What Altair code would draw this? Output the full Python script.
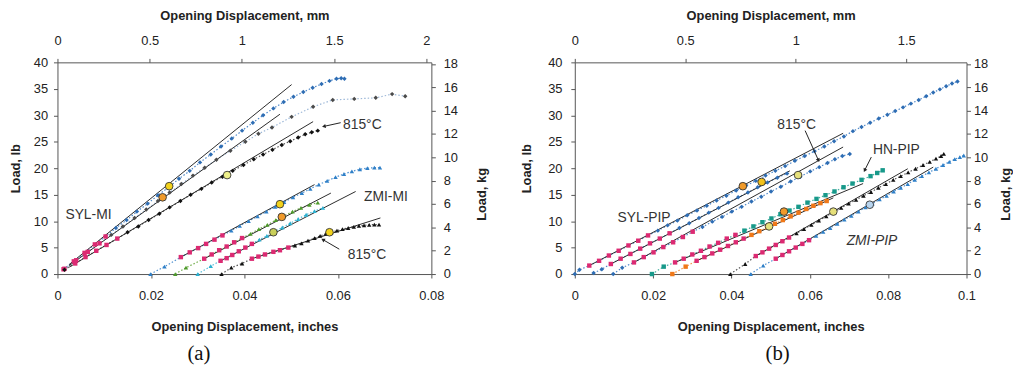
import math
import altair as alt
import pandas as pd

FONT = "Liberation Sans"
KG_MAX = 40 / 2.20462

# ---------------- Panel (a) : MI specimens ----------------
A1_X = [0.0013, 0.0035, 0.0058, 0.0080, 0.0103, 0.0125, 0.0148, 0.0170, 0.0193, 0.0215, 0.0238, 0.0260, 0.0283, 0.0305, 0.0328,
        0.0350, 0.0373, 0.0395, 0.0418, 0.0440, 0.0462, 0.0484, 0.0505, 0.0526, 0.0546, 0.0565, 0.0582, 0.0597, 0.0607, 0.0614]
A1_Y = [0.9, 2.4, 4.0, 5.6, 7.1, 8.7, 10.2, 11.8, 13.3, 14.9, 16.4, 18.0, 19.5, 21.1, 22.6,
        24.1, 25.6, 27.1, 28.6, 30.0, 31.3, 32.5, 33.5, 34.4, 35.2, 35.9, 36.5, 36.9, 37.0, 36.9]
A2_X = [0.0015, 0.0040, 0.0065, 0.0090, 0.0115, 0.0140, 0.0165, 0.0190, 0.0215, 0.0240, 0.0265, 0.0290, 0.0315,
        0.0340, 0.0370, 0.0402, 0.0430, 0.0459, 0.0501, 0.0547, 0.0589, 0.0635, 0.0681, 0.0716, 0.0744]
A2_Y = [1.0, 2.6, 4.2, 5.8, 7.4, 9.0, 10.6, 12.2, 13.8, 15.4, 17.0, 18.6, 20.1,
        21.6, 23.3, 25.0, 26.5, 27.7, 29.7, 31.6, 32.9, 33.1, 33.3, 34.0, 33.6]
A3_X = [0.0015, 0.0038, 0.0060, 0.0083, 0.0105, 0.0128, 0.0150, 0.0173, 0.0195, 0.0218, 0.0240, 0.0263, 0.0285, 0.0308,
        0.0330, 0.0353, 0.0375, 0.0398, 0.0420, 0.0440, 0.0460, 0.0480, 0.0498, 0.0515, 0.0530, 0.0544, 0.0557]
A3_Y = [0.8, 2.0, 3.2, 4.4, 5.5, 6.7, 7.9, 9.0, 10.2, 11.4, 12.6, 13.8, 15.0, 16.1,
        17.3, 18.4, 19.5, 20.6, 21.7, 22.6, 23.5, 24.4, 25.1, 25.8, 26.4, 26.8, 27.1]
A4_X = [0.0199, 0.0229, 0.0264, 0.0283, 0.0301, 0.0318, 0.0336, 0.0353, 0.0372, 0.0390, 0.0409, 0.0428, 0.0447, 0.0466,
        0.0485, 0.0504, 0.0523, 0.0541, 0.0559, 0.0577, 0.0595, 0.0613, 0.0630, 0.0647, 0.0663, 0.0678, 0.0690]
A4_Y = [0.0, 1.4, 3.2, 4.1, 4.9, 5.7, 6.5, 7.3, 8.2, 9.1, 10.0, 10.9, 11.8, 12.7,
        13.6, 14.5, 15.3, 16.1, 16.9, 17.6, 18.3, 18.9, 19.4, 19.8, 20.0, 20.1, 20.1]
A5_X = [0.0252, 0.0275, 0.0314, 0.0330, 0.0346, 0.0362, 0.0378, 0.0395, 0.0413, 0.0431, 0.0449, 0.0467, 0.0485,
        0.0503, 0.0521, 0.0539, 0.0557]
A5_Y = [0.0, 1.2, 2.9, 3.7, 4.5, 5.2, 6.0, 6.8, 7.6, 8.5, 9.3, 10.2, 11.0, 11.8, 12.5, 13.1, 13.5]
A6_X = [0.0300, 0.0328, 0.0349, 0.0362, 0.0374, 0.0388, 0.0402, 0.0416, 0.0432, 0.0448, 0.0464, 0.0481, 0.0498,
        0.0515, 0.0532, 0.0550, 0.0568]
A6_Y = [0.0, 1.5, 2.5, 3.0, 3.6, 4.3, 5.0, 5.7, 6.5, 7.2, 8.0, 8.8, 9.6, 10.4, 11.2, 11.9, 12.5]
A7_X = [0.0351, 0.0372, 0.0395, 0.0416, 0.0430, 0.0444, 0.0462, 0.0476, 0.0494, 0.0508, 0.0522, 0.0536, 0.0550,
        0.0562, 0.0574, 0.0586, 0.0598, 0.0610, 0.0622, 0.0634, 0.0645, 0.0656, 0.0667, 0.0678, 0.0688]
A7_Y = [0.0, 1.2, 2.0, 2.9, 3.3, 3.7, 4.2, 4.5, 5.0, 5.4, 5.8, 6.3, 6.8, 7.2, 7.6, 7.9, 8.2, 8.5, 8.7, 8.9,
        9.1, 9.2, 9.3, 9.35, 9.35]

A_FIT_X1 = [0.0025, 0.0025, 0.0025, 0.0264, 0.0314, 0.0349, 0.0416]
A_FIT_Y1 = [1.8, 1.6, 1.3, 3.2, 2.9, 2.5, 2.9]
A_FIT_X2 = [0.0501, 0.0476, 0.0547, 0.0550, 0.0585, 0.0638, 0.0691]
A_FIT_Y2 = [35.8, 30.2, 28.8, 16.9, 15.3, 15.6, 10.6]

A_CIRC_X = [0.0239, 0.0225, 0.0363, 0.0476, 0.0480, 0.0462, 0.0582]
A_CIRC_Y = [16.6, 14.5, 18.7, 13.2, 10.8, 7.9, 7.9]
A_CIRC_FILL = ["#f2d21c", "#f09a2a", "#eef08a", "#f2d21c", "#f09a2a", "#c9cf5a", "#f2d21c"]

A_LABEL_TEXT = ["SYL-MI", "815°C", "ZMI-MI", "815°C"]
A_LABEL_X = [0.0017, 0.0611, 0.0656, 0.0621]
A_LABEL_Y = [11.2, 28.1, 14.6, 3.6]
A_ARROW_X1 = [0.0606, 0.0603]
A_ARROW_Y1 = [28.6, 4.7]
A_ARROW_X2 = [0.0570, 0.0568]
A_ARROW_Y2 = [27.9, 6.5]

# ---------------- Panel (b) : PIP specimens ----------------
B1_X = [0.0000, 0.0012, 0.0037, 0.0062, 0.0087, 0.0112, 0.0137, 0.0162, 0.0187, 0.0212, 0.0237, 0.0262, 0.0287, 0.0312,
        0.0337, 0.0362, 0.0387, 0.0412, 0.0437, 0.0462, 0.0487, 0.0512, 0.0537, 0.0562, 0.0587, 0.0612, 0.0637, 0.0662,
        0.0687, 0.0710, 0.0732, 0.0754, 0.0776, 0.0798, 0.0818, 0.0838, 0.0858, 0.0878, 0.0897, 0.0915, 0.0932, 0.0948,
        0.0963, 0.0977]
B1_Y = [0.0, 0.8, 1.6, 2.5, 3.5, 4.4, 5.4, 6.3, 7.3, 8.2, 9.2, 10.1, 11.1, 12.0,
        12.9, 13.9, 14.8, 15.8, 16.7, 17.6, 18.6, 19.5, 20.4, 21.4, 22.3, 23.2, 24.1, 25.1,
        26.0, 27.0, 27.8, 28.6, 29.4, 30.1, 30.8, 31.5, 32.2, 32.9, 33.6, 34.3, 34.9, 35.5,
        36.0, 36.4]
B2_X = [0.0048, 0.0069, 0.0092, 0.0117, 0.0142, 0.0167, 0.0192, 0.0217, 0.0242, 0.0267, 0.0292, 0.0317, 0.0342,
        0.0367, 0.0392, 0.0417, 0.0442, 0.0467, 0.0492, 0.0517, 0.0542]
B2_Y = [0.2, 0.9, 1.9, 2.9, 3.8, 4.8, 5.8, 6.7, 7.7, 8.7, 9.6, 10.6, 11.6, 12.5, 13.5, 14.5, 15.4, 16.4, 17.3, 18.2, 19.0]
B3_X = [0.0098, 0.0121, 0.0151, 0.0176, 0.0201, 0.0226, 0.0251, 0.0276, 0.0301, 0.0326, 0.0351, 0.0376, 0.0401,
        0.0426, 0.0451, 0.0476, 0.0501, 0.0526, 0.0551, 0.0576, 0.0601, 0.0624, 0.0645, 0.0664, 0.0683, 0.0702]
B3_Y = [0.0, 1.2, 2.2, 3.2, 4.1, 5.1, 6.0, 7.0, 8.0, 8.9, 9.9, 10.8, 11.8, 12.7, 13.7, 14.6, 15.6, 16.5, 17.5,
        18.4, 19.4, 20.2, 21.0, 21.7, 22.3, 22.7]
B4_X = [0.0197, 0.0227, 0.0256, 0.0278, 0.0300, 0.0322, 0.0344, 0.0366, 0.0388, 0.0410, 0.0433, 0.0456, 0.0479,
        0.0502, 0.0525, 0.0548, 0.0571, 0.0594, 0.0617, 0.0640, 0.0663, 0.0686, 0.0709, 0.0732, 0.0755, 0.0772, 0.0786]
B4_Y = [0.0, 1.4, 2.2, 2.9, 3.7, 4.4, 5.2, 5.9, 6.7, 7.4, 8.2, 9.0, 9.8, 10.5, 11.3, 12.0, 12.7, 13.5, 14.2, 14.9,
        15.6, 16.4, 17.1, 17.8, 18.5, 19.1, 19.6]
B5_X = [0.0249, 0.0283, 0.0311, 0.0331, 0.0351, 0.0371, 0.0391, 0.0411, 0.0431, 0.0451, 0.0471, 0.0491, 0.0511,
        0.0531, 0.0551, 0.0571, 0.0591, 0.0609, 0.0627, 0.0643]
B5_Y = [0.0, 1.4, 2.5, 3.2, 3.9, 4.6, 5.3, 6.0, 6.7, 7.4, 8.1, 8.8, 9.5, 10.2, 10.9, 11.6, 12.3, 12.9, 13.4, 13.8]
B6_X = [0.0397, 0.0435, 0.0462, 0.0479, 0.0496, 0.0513, 0.0530, 0.0547, 0.0566, 0.0585, 0.0604, 0.0623, 0.0642,
        0.0661, 0.0680, 0.0699, 0.0718, 0.0737, 0.0756, 0.0775, 0.0794, 0.0813, 0.0832, 0.0851, 0.0870, 0.0889,
        0.0906, 0.0922, 0.0935, 0.0942]
B6_Y = [0.0, 1.9, 3.4, 4.1, 4.8, 5.5, 6.2, 6.9, 7.7, 8.5, 9.3, 10.1, 10.9, 11.7, 12.5, 13.3, 14.0, 14.8, 15.5,
        16.3, 17.0, 17.8, 18.5, 19.2, 19.9, 20.6, 21.2, 21.8, 22.3, 22.7]
B7_X = [0.0449, 0.0481, 0.0513, 0.0530, 0.0547, 0.0564, 0.0581, 0.0598, 0.0616, 0.0634, 0.0652, 0.0670, 0.0688,
        0.0706, 0.0724, 0.0742, 0.0760, 0.0778, 0.0796, 0.0814, 0.0832, 0.0850, 0.0868, 0.0886, 0.0904, 0.0922,
        0.0940, 0.0956, 0.0970, 0.0983, 0.0993]
B7_Y = [0.0, 1.6, 2.9, 3.6, 4.3, 5.0, 5.7, 6.4, 7.2, 8.0, 8.7, 9.5, 10.3, 11.0, 11.8, 12.6, 13.3, 14.1, 14.8,
        15.6, 16.3, 17.0, 17.8, 18.5, 19.2, 19.9, 20.6, 21.2, 21.7, 22.1, 22.4]

B_FIT_X1 = [0.0037, 0.0092, 0.0151, 0.0256, 0.0311, 0.0462, 0.0513]
B_FIT_Y1 = [1.6, 1.9, 2.2, 2.2, 2.5, 3.4, 2.9]
B_FIT_X2 = [0.0685, 0.0549, 0.0685, 0.0736, 0.0660, 0.0850, 0.0915]
B_FIT_Y2 = [26.6, 19.5, 24.0, 17.1, 14.4, 19.9, 20.2]

B_CIRC_X = [0.0429, 0.0477, 0.0570, 0.0534, 0.0496, 0.0660, 0.0753]
B_CIRC_Y = [16.6, 17.4, 18.7, 11.8, 9.0, 11.8, 13.1]
B_CIRC_FILL = ["#f09a2a", "#f2c21c", "#e6e07a", "#f09a2a", "#e6e07a", "#e6e07a", "#b8d4ee"]

B_LABEL_TEXT = ["SYL-PIP", "815°C", "HN-PIP"]
B_LABEL_X = [0.0109, 0.0517, 0.0761]
B_LABEL_Y = [10.6, 28.2, 23.4]
B_ITALIC_TEXT = ["ZMI-PIP"]
B_ITALIC_X = [0.0694]
B_ITALIC_Y = [6.3]
B_ARROW_X1 = [0.0588, 0.0757]
B_ARROW_Y1 = [27.1, 22.1]
B_ARROW_X2 = [0.0622, 0.0740]
B_ARROW_Y2 = [21.5, 19.6]

# ---------------- styles ----------------
KIND_SHAPE = {"pink": "square", "blue_d": "diamond", "gray_d": "diamond", "black_d": "diamond",
              "blue_t": "triangle-up", "green_t": "triangle-up", "cyan_t": "triangle-up", "black_t": "triangle-up",
              "teal_s": "square", "orange_s": "square"}
KIND_COLOR = {"pink": "#dc2a72", "blue_d": "#2e6db4", "gray_d": "#4a4a4a", "black_d": "#111111",
              "blue_t": "#2f80c8", "green_t": "#4d9a2a", "cyan_t": "#2bb0d0", "black_t": "#111111",
              "teal_s": "#17998a", "orange_s": "#f07818"}


def curve(name, xs, ys, kind, p0, p1, lc):
    n = len(xs)
    return pd.DataFrame({
        "series": [name] * n, "i": list(range(n)), "x": xs, "y": ys,
        "kind": ["pink" if p0 <= i <= p1 else kind for i in range(n)],
        "lc": [lc] * n,
    })


a_curves = pd.concat([
    curve("a1", A1_X, A1_Y, "blue_d", 0, 4, "#4f88c8"),
    curve("a2", A2_X, A2_Y, "gray_d", 0, 3, "#9db8d8"),
    curve("a3", A3_X, A3_Y, "black_d", 1, 5, "#555555"),
    curve("a4", A4_X, A4_Y, "blue_t", 2, 7, "#4f90d0"),
    curve("a5", A5_X, A5_Y, "green_t", 2, 7, "#70ac48"),
    curve("a6", A6_X, A6_Y, "cyan_t", 2, 7, "#50bcd8"),
    curve("a7", A7_X, A7_Y, "black_t", 3, 8, "#555555"),
])
b_curves = pd.concat([
    curve("b1", B1_X, B1_Y, "blue_d", 2, 8, "#4f88c8"),
    curve("b2", B2_X, B2_Y, "blue_d", 2, 8, "#4f88c8"),
    curve("b3", B3_X, B3_Y, "blue_d", 2, 8, "#4f88c8"),
    curve("b4", B4_X, B4_Y, "teal_s", 2, 9, "#40ac9c"),
    curve("b5", B5_X, B5_Y, "orange_s", 2, 8, "#f09040"),
    curve("b6", B6_X, B6_Y, "black_t", 2, 7, "#555555"),
    curve("b7", B7_X, B7_Y, "blue_t", 2, 7, "#4f90d0"),
])


def panel(curves, fx1, fy1, fx2, fy2, cx, cy, cfill, lt, lx, ly, itext, ix, iy,
          ax1, ay1, ax2, ay2, xmax, xticks, mm_max, mm_ticks, w, h, axp, tag, tag_dx):
    xsc = alt.Scale(domain=[0, xmax], nice=False, zero=False)
    ysc = alt.Scale(domain=[0, 40], nice=False, zero=False)
    xax = alt.Axis(values=xticks, format="~g", title="Opening Displacement, inches", orient="bottom",
                   labelPadding=axp["bl"], titlePadding=axp["bt"], labelFlush=False)
    yax = alt.Axis(values=list(range(0, 41, 5)), title="Load, lb", orient="left",
                   labelPadding=axp["ll"], titlePadding=axp["lt"], labelFlush=False)

    def X(f):
        return alt.X(f"{f}:Q", scale=xsc, axis=xax)

    def Y(f):
        return alt.Y(f"{f}:Q", scale=ysc, axis=yax)

    fits = pd.DataFrame({"x1": fx1, "y1": fy1, "x2": fx2, "y2": fy2})
    circ = pd.DataFrame({"x": cx, "y": cy, "c": cfill})
    labs = pd.DataFrame({"x": lx, "y": ly, "t": lt})
    ilabs = pd.DataFrame({"x": ix, "y": iy, "t": itext})
    kx = w / xmax
    ky = h / 40.0
    angs = []
    for a, b, c, d in zip(ax1, ay1, ax2, ay2):
        dx = (c - a) * kx
        dy = -(d - b) * ky
        angs.append(math.degrees(math.atan2(dx, -dy)) % 360)
    arr = pd.DataFrame({"x1": ax1, "y1": ay1, "x2": ax2, "y2": ay2, "ang": angs})

    dotted = alt.Chart(curves).mark_line(strokeDash=[1.5, 2], strokeWidth=1.2).encode(
        X("x"), Y("y"), color=alt.Color("lc:N", scale=None), detail="series:N", order="i:Q")
    fit = alt.Chart(fits).mark_rule(color="#2a2a2a", strokeWidth=1).encode(
        X("x1"), Y("y1"), x2="x2:Q", y2="y2:Q")
    pts = alt.Chart(curves).mark_point(filled=True, opacity=1, size=20).encode(
        X("x"), Y("y"),
        shape=alt.Shape("kind:N", scale=alt.Scale(domain=list(KIND_SHAPE), range=list(KIND_SHAPE.values())), legend=None),
        color=alt.Color("kind:N", scale=alt.Scale(domain=list(KIND_COLOR), range=list(KIND_COLOR.values())), legend=None))
    circles = alt.Chart(circ).mark_point(shape="circle", filled=True, opacity=1, size=60, stroke="#333333",
                                         strokeWidth=0.9).encode(X("x"), Y("y"), fill=alt.Fill("c:N", scale=None))
    txt = alt.Chart(labs).mark_text(align="left", baseline="middle", font=FONT, fontSize=14, color="#333333").encode(
        X("x"), Y("y"), text="t:N")
    layers = [dotted, fit, pts, circles, txt]
    if len(ilabs):
        layers.append(alt.Chart(ilabs).mark_text(align="left", baseline="middle", font=FONT, fontSize=14,
                                                 fontStyle="italic", color="#333333").encode(X("x"), Y("y"), text="t:N"))
    shafts = alt.Chart(arr).mark_rule(color="#222222", strokeWidth=1).encode(X("x1"), Y("y1"), x2="x2:Q", y2="y2:Q")
    heads = alt.Chart(arr).mark_point(shape="triangle-up", filled=True, opacity=1, size=18, color="#222222").encode(
        X("x2"), Y("y2"), angle=alt.Angle("ang:Q", scale=None))
    layers += [shafts, heads]
    main = alt.layer(*layers)

    axdf = pd.DataFrame({"mm": [0, mm_max], "kg": [0, KG_MAX]})
    axl = alt.Chart(axdf).mark_point(opacity=0).encode(
        x=alt.X("mm:Q", scale=alt.Scale(domain=[0, mm_max], nice=False, zero=False),
                axis=alt.Axis(orient="top", values=mm_ticks, format="~g", title="Opening Displacement, mm",
                              labelPadding=axp["tl"], titlePadding=axp["tt"], labelFlush=False)),
        y=alt.Y("kg:Q", scale=alt.Scale(domain=[0, KG_MAX], nice=False, zero=False),
                axis=alt.Axis(orient="right", values=list(range(0, 19, 2)), title="Load, kg", titleAngle=270,
                              titleBaseline="top", titleAlign="center", titleY=h / 2 + 26,
                              labelPadding=axp["rl"], titlePadding=axp["rt"], labelFlush=False)))
    return alt.layer(main, axl).resolve_scale(x="independent", y="independent").properties(
        width=w, height=h,
        title=alt.TitleParams(tag, orient="bottom", anchor="middle", frame="group", font="Liberation Serif",
                              fontSize=21, fontWeight="normal", color="#111111", dx=tag_dx, offset=10))


pa = panel(a_curves, A_FIT_X1, A_FIT_Y1, A_FIT_X2, A_FIT_Y2, A_CIRC_X, A_CIRC_Y, A_CIRC_FILL,
           A_LABEL_TEXT, A_LABEL_X, A_LABEL_Y, [], [], [],
           A_ARROW_X1, A_ARROW_Y1, A_ARROW_X2, A_ARROW_Y2,
           0.08, [0, 0.02, 0.04, 0.06, 0.08], 2.027, [0, 0.5, 1, 1.5, 2], 378, 214,
           {"bl": 12, "bt": 18, "ll": 6, "lt": 11, "tl": 11, "tt": 12, "rl": 8, "rt": 18}, "(a)", -46)
pb = panel(b_curves, B_FIT_X1, B_FIT_Y1, B_FIT_X2, B_FIT_Y2, B_CIRC_X, B_CIRC_Y, B_CIRC_FILL,
           B_LABEL_TEXT, B_LABEL_X, B_LABEL_Y, B_ITALIC_TEXT, B_ITALIC_X, B_ITALIC_Y,
           B_ARROW_X1, B_ARROW_Y1, B_ARROW_X2, B_ARROW_Y2,
           0.1, [0, 0.02, 0.04, 0.06, 0.08, 0.1], 1.773, [0, 0.5, 1, 1.5], 396, 214,
           {"bl": 12, "bt": 18, "ll": 9, "lt": 14, "tl": 11, "tt": 12, "rl": 3, "rt": 12}, "(b)", 7)

chart = alt.hconcat(pa, pb, spacing=32).properties(
    padding={"left": 1, "top": 0, "right": 0, "bottom": 0}
).configure_axis(
    labelFont=FONT, titleFont=FONT, labelFontSize=13, titleFontSize=13, titleFontWeight="bold",
    labelColor="#222222", titleColor="#222222", domainColor="#555555", tickColor="#555555",
    tickSize=4, grid=False, domainWidth=1, tickWidth=1
).configure_view(stroke=None)

chart.save("out.html", embed_options={"renderer": "svg", "actions": False})
